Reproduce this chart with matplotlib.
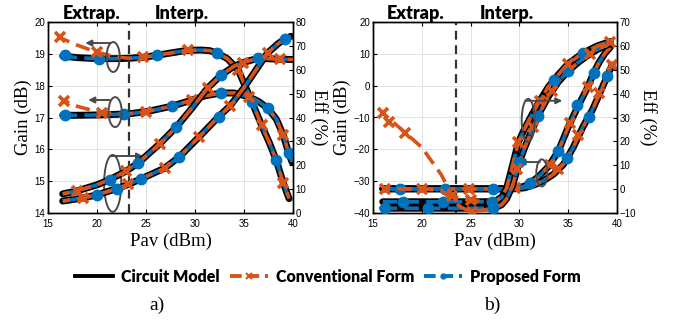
import matplotlib
matplotlib.use("Agg")
import matplotlib.pyplot as plt
from matplotlib.patches import Ellipse
from matplotlib.lines import Line2D

# ---------------- colours / fonts
C_CIRC = "black"
C_CONV = "#D95319"
C_PROP = "#0072BD"
SERIF = "Liberation Serif"
SANS = "Liberation Sans"
BOLD = "Lato"

# ================= a) =================
# gain curve 1 (dB)
a_g1_x = [16.5, 18, 20, 22, 23.3, 25, 27, 29, 30.5, 31.5, 32.2, 33.3, 34.4, 35.8, 36.8, 37.6, 38.3, 39.0, 39.6]
a_g1_circ = [18.93, 18.88, 18.85, 18.85, 18.86, 18.9, 19.0, 19.1, 19.12, 19.1, 19.03, 18.85, 18.5, 17.5, 16.75, 16.2, 15.65, 14.95, 14.45]
a_g1_conv = [19.47, 19.27, 19.05, 18.9, 18.86, 18.9, 19.0, 19.1, 19.12, 19.1, 19.03, 18.85, 18.5, 17.5, 16.75, 16.2, 15.65, 14.95, 14.45]
a_g1_prop_mk_x = [16.7, 20.2, 26.1, 32.2, 35.8, 38.3]
a_g1_prop_mk_y = [18.95, 18.83, 18.96, 19.03, 17.5, 15.65]
a_g1_conv_mk_x = [16.2, 20.0, 24.7, 29.3, 34.4, 36.8, 39.0]
a_g1_conv_mk_y = [19.52, 19.06, 18.9, 19.12, 18.5, 16.75, 14.95]

# gain curve 2 (dB)
a_g2_x = [16.5, 18, 20, 22, 23.3, 25, 27.7, 29.7, 31, 32.7, 34, 35.5, 36.5, 37.4, 38.3, 39.0, 39.5, 39.9]
a_g2_circ = [17.07, 17.07, 17.08, 17.1, 17.12, 17.18, 17.36, 17.55, 17.68, 17.77, 17.77, 17.65, 17.5, 17.3, 16.95, 16.45, 15.95, 15.6]
a_g2_conv = [17.55, 17.35, 17.18, 17.11, 17.12, 17.18, 17.36, 17.55, 17.68, 17.77, 17.77, 17.65, 17.5, 17.3, 16.95, 16.45, 15.95, 15.6]
a_g2_prop_mk_x = [16.7, 22.8, 27.7, 32.7, 37.4, 39.6]
a_g2_prop_mk_y = [17.07, 17.11, 17.36, 17.77, 17.3, 15.88]
a_g2_conv_mk_x = [16.6, 20.5, 25.0, 29.7, 35.5, 39.0]
a_g2_conv_mk_y = [17.53, 17.15, 17.18, 17.55, 17.65, 16.45]

# efficiency curve 1 (%)
a_e1_x = [16.5, 18, 20, 21.3, 23, 24.2, 26.4, 28.1, 29.7, 31.3, 32.7, 34.0, 34.9, 36.4, 38.7, 40]
a_e1_circ = [8.0, 9.3, 11.8, 14.0, 17.6, 20.9, 29.0, 36.0, 44.0, 52.4, 57.9, 61.5, 63.0, 64.8, 64.4, 64.3]
a_e1_prop_mk_x = [21.3, 24.2, 28.1, 32.7, 36.4]
a_e1_prop_mk_y = [14.0, 20.9, 36.0, 57.9, 64.8]
a_e1_conv_mk_x = [18.0, 23.0, 26.4, 31.3, 34.9, 38.7]
a_e1_conv_mk_y = [9.3, 17.6, 29.0, 52.4, 63.0, 64.4]

# efficiency curve 2 (%)
a_e2_x = [16.5, 18.6, 20, 22, 23.2, 24.5, 26.9, 28.4, 30.4, 32.4, 33.6, 35.0, 36.4, 37.4, 38.5, 39.2, 39.8]
a_e2_circ = [5.0, 6.3, 7.6, 10.2, 12.0, 14.3, 18.8, 23.5, 31.8, 40.3, 45.0, 52.5, 61.0, 67.0, 71.0, 73.0, 74.0]
a_e2_prop_mk_x = [20.0, 22.0, 24.5, 28.4, 32.4, 39.2]
a_e2_prop_mk_y = [7.6, 10.2, 14.3, 23.5, 40.3, 73.0]
a_e2_conv_mk_x = [18.6, 23.2, 26.9, 30.4, 33.6, 37.4]
a_e2_conv_mk_y = [6.3, 12.0, 18.8, 31.8, 45.0, 67.0]

# ================= b) =================
# gain curves (dB)
b_r1_x = [16, 20, 24, 28, 29.5, 30.5, 31.1, 32, 33, 34, 35, 36, 37, 37.6, 38.2, 38.8, 39.3]
b_r1_circ = [-32.4, -32.4, -32.4, -32.4, -32.3, -31.6, -30.6, -28.5, -25.3, -20.5, -13, -6.5, -0.5, 4, 7.5, 10.3, 12]
b_r1_prop_mk_x = [17.8, 22.4, 27.3, 31.1, 34.0, 35.9, 37.6]
b_r1_prop_mk_y = [-32.4, -32.4, -32.4, -30.6, -20.5, -6.0, 4.0]
b_r1_conv_mk_x = [16.2, 20.0, 24.8, 29.6, 33.1, 35.2, 37.0]
b_r1_conv_mk_y = [-32.4, -32.4, -32.4, -32.3, -25.0, -11.7, -0.5]

b_r2_x = [16, 20, 24, 28, 29.5, 30.5, 31.5, 32.5, 33.5, 34.5, 35.5, 36.5, 37.5, 38.5, 39.5]
b_r2_circ = [-32.4, -32.4, -32.4, -32.4, -32.4, -32.1, -31.2, -29.8, -27.8, -24.8, -19.5, -13, -7.5, -0.5, 6.5]
b_r2_prop_mk_x = [34.9, 37.1, 39.0]
b_r2_prop_mk_y = [-22.6, -9.8, 3.0]
b_r2_conv_mk_x = [34.0, 36.0, 38.2, 39.5]
b_r2_conv_mk_y = [-26.3, -15.5, -2.4, 6.5]

# efficiency curves (%)
b_l_x = [16, 20, 22, 23.1, 24, 25, 26, 27.5, 28.2, 28.7, 29.3, 29.9, 30.5, 31, 32, 33, 34, 35, 36, 37, 38, 39.3]
b_l1_circ = [-5.3, -5.3, -5.3, -5.3, -5.3, -5.3, -5.3, -5.2, -3.3, 0.5, 10, 19.7, 25, 29, 36.5, 43, 48, 52.5, 55.5, 58, 60, 61.8]
b_l1_conv = [31.9, 17.5, 6.0, -2.7, -4.0, -4.7, -5.1, -5.2, -3.3, 0.5, 10, 19.7, 25, 29, 36.5, 43, 48, 52.5, 55.5, 58, 60, 61.8]
b_l2_circ = [-8, -8, -8, -8, -8, -8, -8, -7.8, -6.5, -4, 1.5, 10, 17, 22, 31.5, 39, 45, 49.5, 53, 56, 58.5, 61]
b_l2_conv = [0.1, 0.1, -0.5, -4.5, -7.5, -9.6, -9.0, -7.8, -6.5, -4, 1.5, 10, 17, 22, 31.5, 39, 45, 49.5, 53, 56, 58.5, 61]
b_l1_prop_mk_x = [18.1, 22.2, 27.2, 33.5, 36.5]
b_l1_prop_mk_y = [-5.3, -5.3, -5.3, 45.5, 57.0]
b_l1_conv_mk_x = [16.0, 16.6, 18.3, 23.1, 25.0, 29.9, 32.1, 35.0, 39.3]
b_l1_conv_mk_y = [31.9, 28.1, 23.5, -2.7, -4.7, 19.7, 37.0, 52.5, 61.8]
b_l2_prop_mk_x = [16.2, 20.6, 27.3, 30.0, 31.9, 35.0]
b_l2_prop_mk_y = [-8.0, -8.0, -7.8, 11.5, 30.5, 49.5]
b_l2_conv_mk_x = [25.1, 29.8, 31.4, 33.3, 37.2]
b_l2_conv_mk_y = [-9.6, 8.5, 26.0, 41.0, 56.5]

# ---------------- helpers
def draw_curve(ax, x, circ, conv=None, prop=None, pmx=(), pmy=(), cmx=(), cmy=()):
    conv = circ if conv is None else conv
    prop = circ if prop is None else prop
    ax.plot(x, circ, color=C_CIRC, lw=5.0, solid_capstyle="round", zorder=3)
    ax.plot(x, prop, color=C_PROP, lw=2.6, ls=(0, (4, 2)), zorder=4)
    ax.plot(x, conv, color=C_CONV, lw=2.6, ls=(2, (4, 2)), zorder=5)
    ax.plot(pmx, pmy, ls="none", marker="o", ms=7.5, color=C_PROP, zorder=6)
    ax.plot(cmx, cmy, ls="none", marker="x", ms=7.5, mew=2.6, color=C_CONV, zorder=7)


def style(ax, ax2, ylim, yticks, y2lim, y2ticks):
    ax.set_xlim(15, 40)
    ax.set_xticks(range(15, 41, 5))
    ax.set_ylim(*ylim)
    ax.set_yticks(yticks)
    ax2.set_ylim(*y2lim)
    ax2.set_yticks(y2ticks)
    ax.grid(True, color="#e3e3e3", lw=0.7)
    ax.set_axisbelow(True)
    for a in (ax, ax2):
        a.tick_params(direction="in", length=3, labelsize=7, width=0.8, pad=2)
        for lab in a.get_xticklabels() + a.get_yticklabels():
            lab.set_fontfamily(SANS)
        for s in a.spines.values():
            s.set_linewidth(1.0)
    ax.tick_params(axis="x", top=True, pad=4)
    ax.set_xlabel("Pav (dBm)", family=SERIF, fontsize=13.5, labelpad=3)
    ax.set_ylabel("Gain (dB)", family=SERIF, fontsize=13.5, labelpad=2)
    ax2.set_ylabel("Eff (%)", family=SERIF, fontsize=13.5, rotation=270, labelpad=15)


def ring(ax, cx, cy, w, h, ax0, ay, ax1):
    ax.add_patch(Ellipse((cx, cy), w, h, fill=False, ec="#4a4a4a", lw=1.4, zorder=8))
    ax.annotate("", xy=(ax1, ay), xytext=(ax0, ay),
                arrowprops=dict(arrowstyle="-|>", color="#4a4a4a", lw=1.4,
                                mutation_scale=9, shrinkA=0, shrinkB=0), zorder=8)


fig = plt.figure(figsize=(6.74, 3.22), dpi=100)
axa = fig.add_axes([48 / 674, 1 - 213 / 322, 245 / 674, 191 / 322])
axa2 = axa.twinx()
axb = fig.add_axes([373 / 674, 1 - 213 / 322, 244 / 674, 191 / 322])
axb2 = axb.twinx()
for base, a2 in ((axa, axa2), (axb, axb2)):
    a2.set_zorder(base.get_zorder() + 1)
    a2.patch.set_visible(False)

# a)
draw_curve(axa, a_g1_x, a_g1_circ, conv=a_g1_conv, pmx=a_g1_prop_mk_x, pmy=a_g1_prop_mk_y,
           cmx=a_g1_conv_mk_x, cmy=a_g1_conv_mk_y)
draw_curve(axa, a_g2_x, a_g2_circ, conv=a_g2_conv, pmx=a_g2_prop_mk_x, pmy=a_g2_prop_mk_y,
           cmx=a_g2_conv_mk_x, cmy=a_g2_conv_mk_y)
draw_curve(axa2, a_e1_x, a_e1_circ, pmx=a_e1_prop_mk_x, pmy=a_e1_prop_mk_y,
           cmx=a_e1_conv_mk_x, cmy=a_e1_conv_mk_y)
draw_curve(axa2, a_e2_x, a_e2_circ, pmx=a_e2_prop_mk_x, pmy=a_e2_prop_mk_y,
           cmx=a_e2_conv_mk_x, cmy=a_e2_conv_mk_y)
style(axa, axa2, (14, 20), range(14, 21), (0, 80), range(0, 81, 10))
axa.axvline(23.3, color="#333333", ls=(0, (4, 2.5)), lw=1.6, zorder=9)
ring(axa, 21.65, 18.9, 1.35, 0.94, 21.3, 19.34, 18.8)
ring(axa, 21.85, 17.17, 1.35, 0.94, 21.3, 17.55, 19.1)
ring(axa, 21.6, 14.93, 1.75, 1.79, 21.4, 15.79, 24.7)

# b)
draw_curve(axb, b_r1_x, b_r1_circ, pmx=b_r1_prop_mk_x, pmy=b_r1_prop_mk_y,
           cmx=b_r1_conv_mk_x, cmy=b_r1_conv_mk_y)
draw_curve(axb, b_r2_x, b_r2_circ, pmx=b_r2_prop_mk_x, pmy=b_r2_prop_mk_y,
           cmx=b_r2_conv_mk_x, cmy=b_r2_conv_mk_y)
draw_curve(axb2, b_l_x, b_l1_circ, conv=b_l1_conv, pmx=b_l1_prop_mk_x, pmy=b_l1_prop_mk_y,
           cmx=b_l1_conv_mk_x, cmy=b_l1_conv_mk_y)
draw_curve(axb2, b_l_x, b_l2_circ, conv=b_l2_conv, pmx=b_l2_prop_mk_x, pmy=b_l2_prop_mk_y,
           cmx=b_l2_conv_mk_x, cmy=b_l2_conv_mk_y)
style(axb, axb2, (-40, 20), range(-40, 21, 10), (-10, 70), range(-10, 71, 10))
axb.axvline(23.5, color="#333333", ls=(0, (4, 2.5)), lw=1.6, zorder=9)
ring(axb2, 30.9, 28.8, 1.33, 18.0, 30.6, 37.0, 34.4)
ring(axb, 32.3, -27.4, 1.13, 8.5, 32.1, -24.0, 29.9)

# headings
for ex, ip in ((92, 182), (416, 507)):
    fig.text(ex / 674, 1 - 13 / 322, "Extrap.", ha="center", va="center",
             family=BOLD, fontweight="heavy", fontsize=13)
    fig.text(ip / 674, 1 - 13 / 322, "Interp.", ha="center", va="center",
             family=BOLD, fontweight="heavy", fontsize=13)

fig.text(157 / 674, 1 - 305 / 322, "a)", ha="center", va="center", family=SERIF, fontsize=14)
fig.text(492 / 674, 1 - 305 / 322, "b)", ha="center", va="center", family=SERIF, fontsize=14)

handles = [
    Line2D([], [], color=C_CIRC, lw=2.8),
    Line2D([], [], color=C_CONV, lw=2.8, ls=(0, (3, 1.5)), marker="x", ms=4, mew=1.5),
    Line2D([], [], color=C_PROP, lw=2.8, ls=(0, (3, 1.5)), marker="o", ms=3.5),
]
labels = ["Circuit Model", "Conventional Form", "Proposed Form"]
fig.legend(handles, labels, loc="center", bbox_to_anchor=(328 / 674, 1 - 277 / 322),
           ncol=3, frameon=False, handlelength=2.4, handletextpad=0.5, columnspacing=0.6,
           prop=dict(family=BOLD, weight="heavy", size=11.5))

fig.savefig("out.png", dpi=100)
